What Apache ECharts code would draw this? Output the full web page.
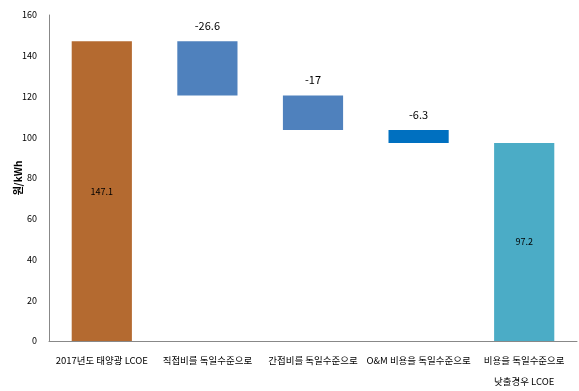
<!DOCTYPE html>
<html><head><meta charset="utf-8">
<script src="https://cdn.jsdelivr.net/npm/echarts@6/dist/echarts.min.js"></script>
<style>html,body{margin:0;padding:0;background:#fff}#c{width:579px;height:391px}</style>
</head><body><div id="c"></div>
<script>
var categories = ['2017년도 태양광 LCOE', '직접비를 독일수준으로', '간접비를 독일수준으로', 'O&M 비용을 독일수준으로', '비용을 독일수준으로\n낮출경우 LCOE'];
var changes = [147.1, -26.6, -17, -6.3, 97.2];
var isTotal = [true, false, false, false, true];
var colors = ['#B46A30', '#4F81BD', '#4F81BD', '#0070C0', '#4BACC6'];
var yTicks = [0, 20, 40, 60, 80, 100, 120, 140, 160];

var base = [], height = [], running = 0;
for (var i = 0; i < changes.length; i++) {
  if (isTotal[i]) { base.push(0); height.push(changes[i]); running = changes[i]; }
  else { running += changes[i]; base.push(running); height.push(-changes[i]); }
}
var font = '"Liberation Sans Narrow","Noto Sans CJK KR",sans-serif';
var chart = echarts.init(document.getElementById('c'));
chart.setOption({
  animation: false,
  grid: {left: 49, right: 2, top: 15, bottom: 50, outerBoundsMode: 'none', containLabel: false},
  xAxis: {
    type: 'category', data: categories,
    axisLine: {lineStyle: {color: '#888'}}, axisTick: {show: false},
    axisLabel: {color: '#000', fontSize: 9.5, fontFamily: font, margin: 9, lineHeight: 21, interval: 0, hideOverlap: false}
  },
  yAxis: {
    type: 'value', min: yTicks[0], max: yTicks[yTicks.length - 1], interval: 20,
    name: '원/kWh', nameLocation: 'middle', nameGap: 26, nameRotate: 90, nameMoveOverlap: false,
    nameTextStyle: {color: '#000', fontSize: 10, fontFamily: font, fontWeight: 'bold'},
    axisLine: {show: true, lineStyle: {color: '#888'}}, axisTick: {show: false},
    splitLine: {show: false},
    axisLabel: {color: '#000', fontSize: 9, fontFamily: font, margin: 12}
  },
  series: [
    {type: 'bar', stack: 'w', data: base, itemStyle: {color: 'transparent'}, barWidth: '57%', silent: true},
    {type: 'bar', stack: 'w', barWidth: '57%',
      data: height.map(function (v, i) {
        return {value: v, itemStyle: {color: colors[i]},
          label: {show: true, position: isTotal[i] ? 'inside' : 'top', distance: 10,
            color: '#000', fontSize: isTotal[i] ? 9 : 11, fontFamily: font,
            formatter: function () { return String(changes[i]); }}};
      })}
  ]
});
</script></body></html>
